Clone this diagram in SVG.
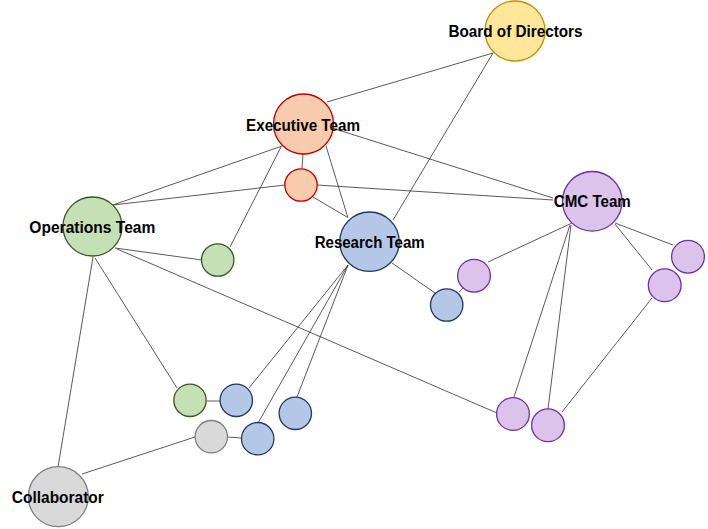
<svg xmlns="http://www.w3.org/2000/svg" width="708" height="529" viewBox="0 0 708 529">
<style>
.edge{stroke:#303030;stroke-width:0.8;fill:none}
.n{stroke-width:1.3}
.gold{fill:#FFE699;stroke:#BF9000}
.red{fill:#F8CBAD;stroke:#C00000}
.green{fill:#C5E0B4;stroke:#385723}
.blue{fill:#B4C7E7;stroke:#203864}
.purple{fill:#DCC3EB;stroke:#7030A0}
.gray{fill:#D9D9D9;stroke:#7F7F7F}
.lbl{font-family:"Liberation Sans",Arial,sans-serif;font-weight:bold;font-size:16px;fill:#000;text-anchor:middle}
</style>
<rect width="708" height="529" fill="#fff"/>
<g id="connectors">
<line class="edge" x1="327" y1="102" x2="493" y2="53"/>
<line class="edge" x1="493" y1="53" x2="393" y2="220"/>
<line class="edge" x1="332" y1="128" x2="553" y2="198"/>
<line class="edge" x1="282" y1="146" x2="113" y2="205"/>
<line class="edge" x1="281" y1="147" x2="230" y2="247"/>
<line class="edge" x1="303" y1="154" x2="302" y2="168"/>
<line class="edge" x1="326" y1="146" x2="348" y2="218"/>
<line class="edge" x1="313" y1="197" x2="347" y2="217"/>
<line class="edge" x1="113" y1="205" x2="285" y2="185"/>
<line class="edge" x1="317" y1="185" x2="553" y2="200"/>
<line class="edge" x1="115" y1="248" x2="202" y2="260"/>
<line class="edge" x1="117" y1="249" x2="497" y2="413"/>
<line class="edge" x1="95" y1="258" x2="177" y2="388"/>
<line class="edge" x1="93" y1="257" x2="58" y2="467"/>
<line class="edge" x1="392" y1="263" x2="435" y2="293"/>
<line class="edge" x1="348" y1="265" x2="249" y2="388"/>
<line class="edge" x1="348" y1="265" x2="258" y2="423"/>
<line class="edge" x1="348" y1="265" x2="297" y2="397"/>
<line class="edge" x1="459" y1="292" x2="463" y2="288"/>
<line class="edge" x1="488" y1="262" x2="572" y2="223"/>
<line class="edge" x1="570" y1="225" x2="514" y2="397"/>
<line class="edge" x1="571" y1="225" x2="548" y2="409"/>
<line class="edge" x1="615" y1="223" x2="673" y2="245"/>
<line class="edge" x1="615" y1="224" x2="652" y2="270"/>
<line class="edge" x1="652" y1="298" x2="562" y2="412"/>
<line class="edge" x1="207" y1="401" x2="221" y2="401"/>
<line class="edge" x1="228" y1="437" x2="241" y2="438"/>
<line class="edge" x1="195" y1="437" x2="82" y2="474"/>
</g>
<g id="board"><circle class="n gold" cx="515" cy="31" r="30"/><text class="lbl" x="515.5" y="36.5" textLength="134" lengthAdjust="spacingAndGlyphs">Board of Directors</text></g>
<g id="executive"><circle class="n red" cx="303.5" cy="124" r="30"/><text class="lbl" x="303" y="130.5" textLength="114" lengthAdjust="spacingAndGlyphs">Executive Team</text></g>
<g id="exec-sub"><circle class="n red" cx="301" cy="185" r="16.2"/></g>
<g id="operations"><circle class="n green" cx="92.5" cy="226.5" r="29.5"/><text class="lbl" x="92.3" y="232.5" textLength="126" lengthAdjust="spacingAndGlyphs">Operations Team</text></g>
<g id="ops-sub1"><circle class="n green" cx="217.7" cy="260" r="16.2"/></g>
<g id="ops-sub2"><circle class="n green" cx="190" cy="400.3" r="16.2"/></g>
<g id="research"><circle class="n blue" cx="369.5" cy="241.7" r="29.7"/><text class="lbl" x="369.7" y="247.7" textLength="110" lengthAdjust="spacingAndGlyphs">Research Team</text></g>
<g id="res-sub1"><circle class="n blue" cx="446.7" cy="305" r="16.2"/></g>
<g id="res-sub2"><circle class="n blue" cx="236.3" cy="400.3" r="16.2"/></g>
<g id="res-sub3"><circle class="n blue" cx="295.3" cy="413.3" r="16.2"/></g>
<g id="res-sub4"><circle class="n blue" cx="257.7" cy="438.7" r="16.2"/></g>
<g id="cmc"><circle class="n purple" cx="592.3" cy="201.3" r="29.8"/><text class="lbl" x="592.3" y="207.3" textLength="77" lengthAdjust="spacingAndGlyphs">CMC Team</text></g>
<g id="cmc-sub1"><circle class="n purple" cx="474" cy="275.7" r="16.4"/></g>
<g id="cmc-sub2"><circle class="n purple" cx="688" cy="256.7" r="16.4"/></g>
<g id="cmc-sub3"><circle class="n purple" cx="664.7" cy="285.3" r="16.4"/></g>
<g id="cmc-sub4"><circle class="n purple" cx="513" cy="414" r="16.4"/></g>
<g id="cmc-sub5"><circle class="n purple" cx="548" cy="425.3" r="16.4"/></g>
<g id="collab-sub"><circle class="n gray" cx="211.3" cy="436.7" r="16.2"/></g>
<g id="collaborator"><circle class="n gray" cx="58.3" cy="496.7" r="30"/><text class="lbl" x="57.8" y="502.5" textLength="92" lengthAdjust="spacingAndGlyphs">Collaborator</text></g>
</svg>
